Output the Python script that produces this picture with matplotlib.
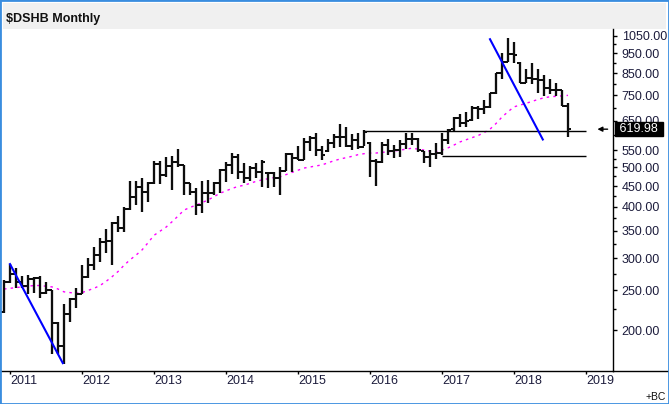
import numpy as np
import pandas as pd
import matplotlib
matplotlib.use('Agg')
import matplotlib.pyplot as plt
import matplotlib.transforms as mtransforms
from matplotlib.ticker import FixedLocator, FixedFormatter, NullFormatter
from matplotlib.lines import Line2D
from matplotlib.patches import Rectangle

plt.rcParams['font.family'] = ['Liberation Sans', 'DejaVu Sans']

# ---------------- data (monthly OHLC, Dec 2010 .. Oct 2018) ----------------
first_month = '2010-12'
highs = [265, 290, 284, 271, 272, 270, 271, 262, 250, 209,
         231, 239, 253, 289, 300, 320, 336, 353, 368, 381,
         400, 464, 464, 470, 460, 518, 518, 530, 533, 554,
         507, 458, 445, 464, 466, 460, 496, 515, 542, 540,
         512, 505, 512, 521, 487, 487, 501, 542, 542, 565,
         589, 596, 606, 565, 586, 603, 638, 628, 603, 606,
         617, 577, 524, 577, 586, 567, 583, 606, 606, 591,
         548, 551, 574, 606, 620, 664, 675, 682, 706, 706,
         731, 761, 849, 950, 1034, 1011, 904, 872, 902, 868,
         842, 822, 806, 773, 718]
lows = [220, 261, 254, 254, 245, 246, 239, 245, 175, 175,
        165, 209, 226, 245, 268, 281, 293, 309, 288, 348,
        347, 393, 404, 389, 412, 455, 455, 474, 440, 502,
        427, 427, 382, 387, 409, 427, 432, 460, 482, 468,
        458, 462, 472, 447, 445, 448, 427, 489, 487, 521,
        521, 549, 532, 521, 546, 559, 562, 562, 551, 554,
        565, 474, 450, 513, 537, 526, 529, 556, 567, 546,
        513, 502, 524, 535, 570, 615, 628, 626, 651, 655,
        677, 700, 755, 823, 907, 902, 803, 803, 798, 761,
        747, 755, 747, 707, 594]
opens = [222, 262, 275, 262, 256, 267, 268, 246, 250, 208,
         183, 219, 238, 245, 270, 288, 305, 328, 330, 365,
         355, 396, 422, 447, 434, 458, 510, 480, 504, 514,
         507, 458, 435, 405, 432, 432, 458, 493, 507, 530,
         487, 472, 498, 487, 485, 484, 472, 490, 540, 526,
         521, 577, 591, 551, 548, 574, 594, 594, 565, 583,
         562, 575, 518, 516, 567, 548, 551, 570, 586, 586,
         548, 530, 540, 543, 583, 620, 660, 643, 652, 700,
         696, 703, 761, 849, 905, 946, 900, 806, 827, 822,
         818, 782, 773, 773, 708]
closes = [262, 275, 262, 256, 267, 268, 246, 250, 208, 183,
          219, 238, 245, 270, 288, 305, 328, 330, 365, 355,
          396, 422, 447, 434, 458, 510, 480, 504, 514, 507,
          458, 435, 405, 432, 432, 458, 493, 507, 530, 487,
          472, 498, 487, 516, 484, 472, 490, 540, 526, 521,
          577, 591, 551, 537, 574, 594, 594, 565, 583, 562,
          611, 518, 516, 567, 548, 551, 570, 586, 586, 551,
          530, 540, 543, 583, 617, 660, 643, 648, 700, 696,
          703, 761, 849, 905, 946, 942, 806, 827, 822, 818,
          782, 773, 773, 708, 619.98]
moving_avg = [252, 253, 254, 255, 256, 257, 257, 256, 255, 252,
              248, 247, 246, 247, 250, 253, 257, 263, 270, 278,
              288, 297, 305, 314, 327, 341, 349, 357, 368, 380,
              393, 399, 404, 410, 416, 424, 432, 438, 444, 449,
              452, 457, 462, 466, 469, 472, 474, 480, 486, 492,
              498, 501, 504, 507, 513, 519, 524, 528, 532, 537,
              540, 542, 542, 544, 546, 548, 551, 554, 557, 554,
              551, 548, 546, 551, 558, 567, 577, 584, 591, 598,
              608, 620, 640, 664, 684, 703, 710, 717, 725, 733,
              740, 744, 746, 748, 750]
year_labels = ['2011', '2012', '2013', '2014', '2015', '2016', '2017', '2018', '2019']
trend1_x = [1.0, 9.8]
trend1_y = [290, 166]
trend2_x = [81.0, 89.8]
trend2_y = [1029, 585]
upper_level = 612
upper_from, upper_to = 60, 97
lower_level = 534
lower_from, lower_to = 73, 97
last_price = 619.98
y_major = [200, 250, 300, 350, 400, 450, 500, 550, 650, 750, 850, 950, 1050]
y_minor = [225, 275, 325, 375, 425, 475, 525, 600, 700, 800, 900, 1000]

# ---------------- figure ----------------
W, H = 669, 404
fig = plt.figure(figsize=(W / 100, H / 100), dpi=100)
fig.patch.set_facecolor('white')

ax_left, ax_right, ax_top, ax_bottom = 1, 613.3, 29, 371
ax = fig.add_axes([ax_left / W, 1 - ax_bottom / H,
                   (ax_right - ax_left) / W, (ax_bottom - ax_top) / H])

n = len(closes)
months = pd.period_range(first_month, periods=n, freq='M')
x = np.arange(n)

ax.set_yscale('log')
ax.set_ylim(158.8, 1090)
ax.set_xlim(-0.5, 101.55)

bar_c = '#0d0d0d'
ax.vlines(x, lows, highs, color=bar_c, lw=1.65, capstyle='butt', zorder=3)
ax.hlines(opens, x - 0.55, x, color=bar_c, lw=1.45, zorder=3)
ax.hlines(closes, x, x + 0.55, color=bar_c, lw=1.45, zorder=3)

ax.plot(x, moving_avg, color='#ff00ff', lw=1.0, linestyle=(0, (1.8, 3.0)), zorder=2)

ax.plot(trend1_x, trend1_y, color='#0000ff', lw=1.5, zorder=4)
ax.plot(trend2_x, trend2_y, color='#0000ff', lw=1.5, zorder=4)

ax.hlines([upper_level], upper_from, upper_to, color='black', lw=1.0, zorder=2)
ax.hlines([lower_level], lower_from, lower_to, color='black', lw=1.0, zorder=2)

ax.annotate('', xy=(98.9, last_price), xytext=(100.6, last_price),
            arrowprops=dict(arrowstyle='-|>', color='black', lw=1.0,
                            mutation_scale=7, shrinkA=0, shrinkB=0))

# spines
for s in ['left', 'top']:
    ax.spines[s].set_visible(False)
ax.spines['right'].set_linewidth(1.0)
ax.spines['bottom'].set_linewidth(1.0)

# y axis on right
lab_c = '#1c1c3c'
ax.yaxis.tick_right()
ax.yaxis.set_major_locator(FixedLocator(y_major))
ax.yaxis.set_major_formatter(FixedFormatter([f'{v:.2f}' for v in y_major]))
ax.yaxis.set_minor_locator(FixedLocator(y_minor))
ax.yaxis.set_minor_formatter(NullFormatter())
ax.tick_params(axis='y', which='major', length=3, width=1, pad=3,
               labelsize=9, labelcolor=lab_c, direction='out')
ax.tick_params(axis='y', which='minor', length=2.5, width=1, direction='out')

# x axis years
tick_pos = [(pd.Period(f'{y}-01', freq='M') - months[0]).n for y in year_labels]
ax.xaxis.set_major_locator(FixedLocator(tick_pos))
ax.set_xticklabels(year_labels, ha='left')
ax.xaxis.set_minor_locator(FixedLocator([]))
ax.tick_params(axis='x', which='major', length=2.2, width=1, pad=1,
               labelsize=9, labelcolor=lab_c, direction='out')

# last price box
trans = mtransforms.blended_transform_factory(ax.transAxes, ax.transData)
ax.text(1.0049, last_price, ' 619.98 ', transform=trans, ha='left', va='center',
        color='white', fontsize=9, clip_on=False, zorder=10,
        bbox=dict(boxstyle='square,pad=0.1', fc='black', ec='black'))

# bottom axis extension into label area
fig.add_artist(Line2D([ax_right / W, 667 / W], [1 - ax_bottom / H, 1 - ax_bottom / H],
                      transform=fig.transFigure, color='black', lw=1.0))

# title band
fig.add_artist(Rectangle((3 / W, 1 - 29 / H), 663 / W, 26 / H, transform=fig.transFigure,
                         fc='#f0f0f0', ec='none', zorder=0))
fig.text(6 / W, 1 - 21.7 / H, '$DSHB Monthly', fontsize=9, fontweight='bold',
         ha='left', va='baseline', color='#111111')

fig.text(666 / W, 1 - 400 / H, '+BC', fontsize=7.5, ha='right', va='baseline', color='#111111')

# outer blue frame
fig.add_artist(Rectangle((0, 0), 1, 1, transform=fig.transFigure, fill=False,
                         ec='#3a8ddf', lw=2.0))

fig.savefig('out.png', dpi=100)
